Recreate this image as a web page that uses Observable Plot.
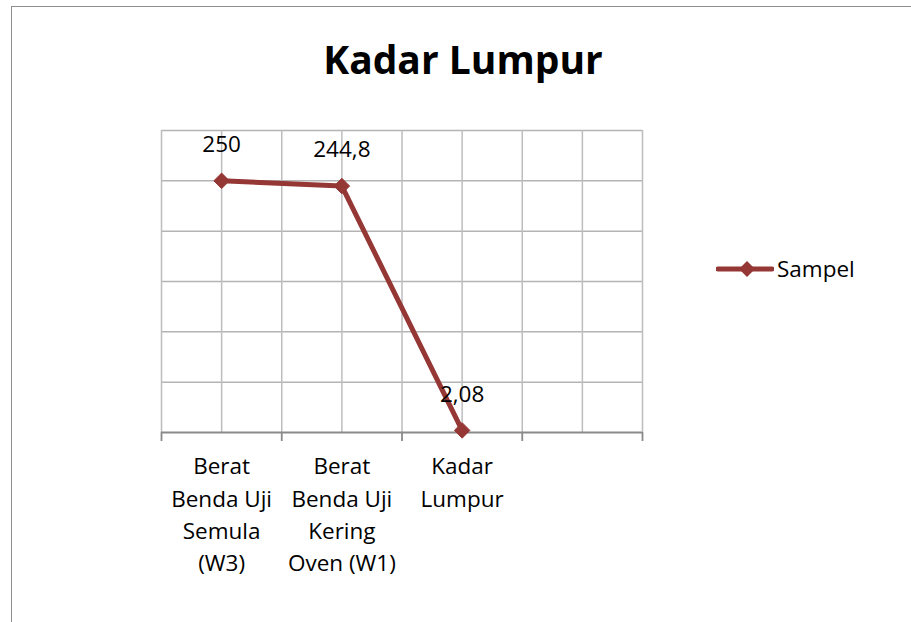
<!DOCTYPE html>
<html><head><meta charset="utf-8">
<script src="https://cdn.jsdelivr.net/npm/d3@7"></script>
<script src="https://cdn.jsdelivr.net/npm/@observablehq/plot@0.6"></script>
<style>
html,body{margin:0;padding:0;background:#fff;overflow:hidden;width:911px;height:622px;}
#wrap{position:relative;width:911px;height:622px;font-family:"Open Sans",sans-serif;}
#border{position:absolute;left:11px;top:6px;width:1200px;height:1200px;border:1.5px solid #8e8e8e;box-sizing:border-box;}
#title{position:absolute;left:0;width:926px;top:32px;text-align:center;font-weight:bold;font-size:39px;color:#000;}
#legend{position:absolute;left:716px;top:253px;display:flex;align-items:center;font-size:22.5px;}
#chart{position:absolute;left:0;top:0;}
</style></head>
<body><div id="wrap"><div id="border"></div><div id="chart"></div><div id="title">Kadar Lumpur</div><div id="legend"></div></div>
<script>
const title = "Kadar Lumpur";
const categories = ["Berat\nBenda Uji\nSemula\n(W3)", "Berat\nBenda Uji\nKering\nOven (W1)", "Kadar\nLumpur", ""];
const seriesName = "Sampel";
const values = [250, 244.8, 2.08];
const valueLabels = ["250", "244,8", "2,08"];
const yTicks = [0, 50, 100, 150, 200, 250, 300];

const color = "#953735";
const pts = values.map((v, i) => ({x: i + 0.5, y: v, label: valueLabels[i]}));
const cats = categories.map((c, i) => ({x: i + 0.5, c}));
const xGrid = d3.range(0, categories.length + 0.01, 0.5);
const xBounds = d3.range(0, categories.length + 1);

const plot = Plot.plot({
  width: 911, height: 622,
  marginLeft: 161, marginRight: 269, marginTop: 130, marginBottom: 190,
  x: {domain: [0, categories.length]},
  y: {domain: [0, 300], axis: null},
  style: {fontFamily: "'Open Sans', sans-serif", background: "transparent"},
  marks: [
    Plot.ruleY(yTicks.slice(1), {stroke: "#b4b4b4", strokeWidth: 1.5}),
    Plot.ruleX(xGrid, {stroke: "#bdbdbd", strokeWidth: 1.5}),
    Plot.axisX({ticks: xBounds, tickSize: 9, tickFormat: () => "", stroke: "#8a8a8a", strokeWidth: 1.8, label: null}),
    Plot.ruleY([0], {stroke: "#8a8a8a", strokeWidth: 1.8}),
    Plot.line(pts, {x: "x", y: "y", stroke: color, strokeWidth: 5}),
    Plot.dot(pts, {x: "x", y: "y", symbol: "diamond2", r: 7, fill: color, stroke: color, strokeWidth: 1}),
    Plot.text(pts, {x: "x", y: "y", text: "label", dy: -36, fontSize: 22.5, fill: "#000", lineAnchor: "middle"}),
    Plot.text(cats, {x: "x", y: 0, text: "c", dy: 19, fontSize: 22.5, lineHeight: 1.43, fill: "#000", lineAnchor: "top", textAnchor: "middle"})
  ]
});
document.getElementById("chart").appendChild(plot);

document.getElementById("title").textContent = title;
const lg = document.getElementById("legend");
lg.innerHTML = `<svg width="58" height="20"><line x1="2" y1="10" x2="56" y2="10" stroke="${color}" stroke-width="5" stroke-linecap="round"/><path d="M31,2 L39,10 L31,18 L23,10 Z" fill="${color}"/></svg><span style="margin-left:3px">${seriesName}</span>`;
</script></body></html>
